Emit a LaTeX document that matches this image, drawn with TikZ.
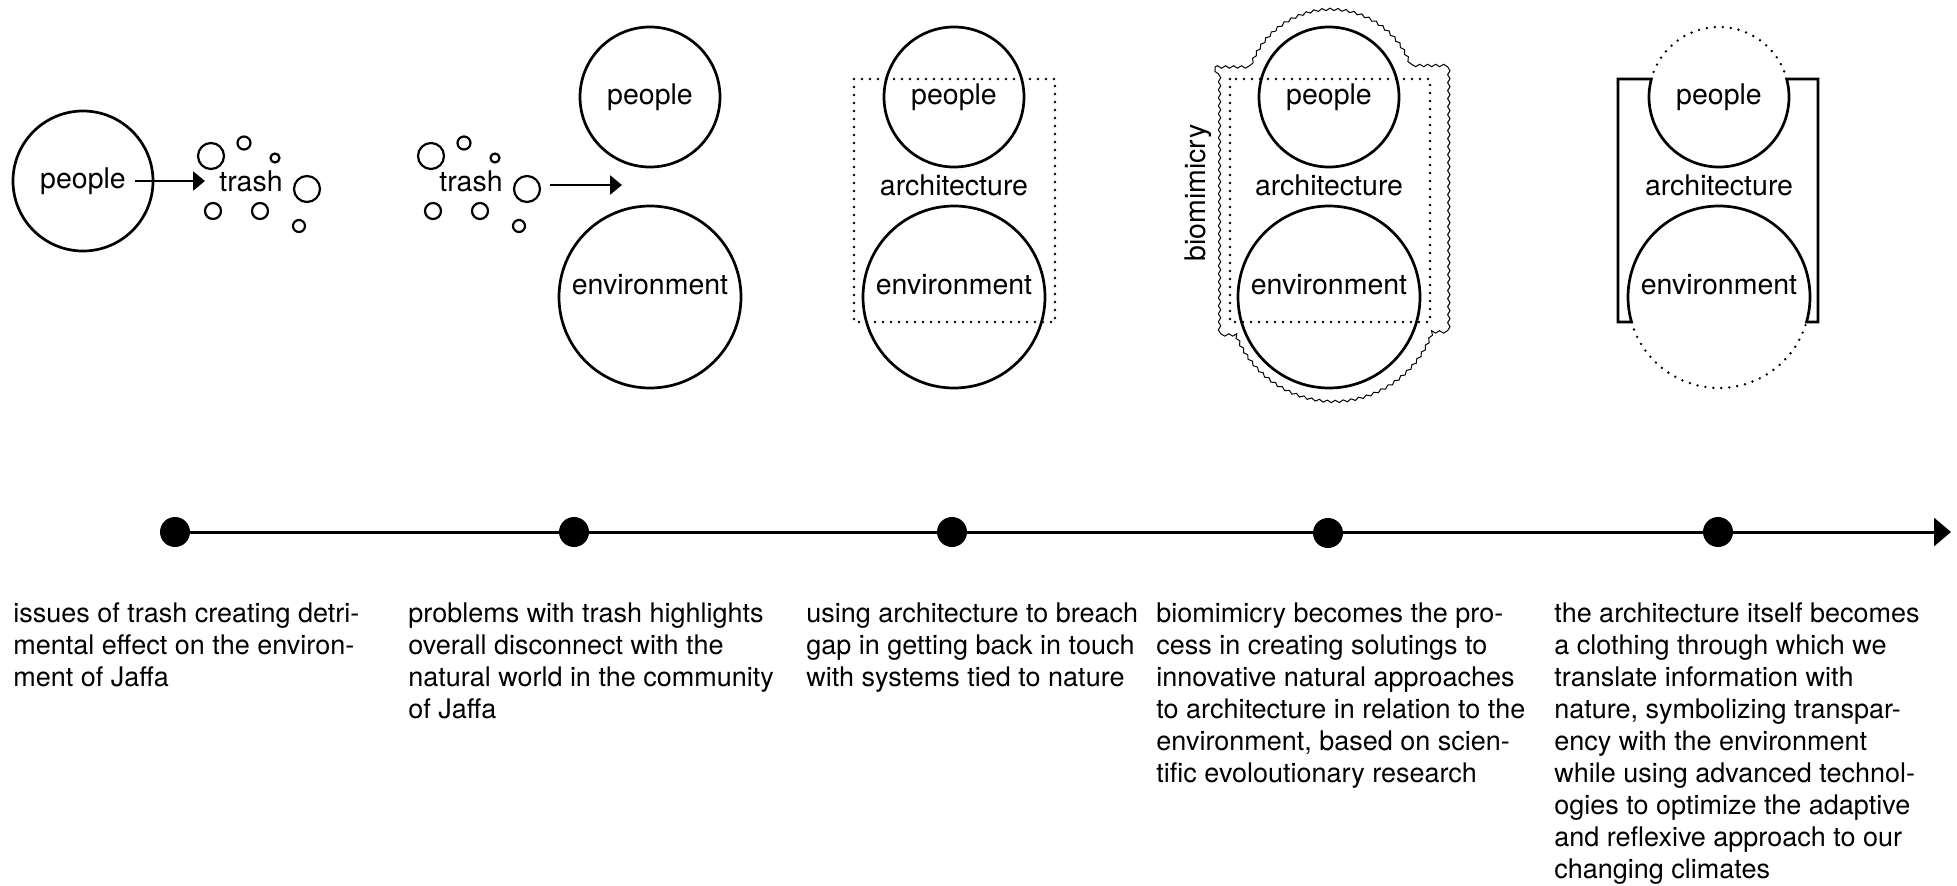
\documentclass[tikz,border=0pt]{standalone}
\usepackage{fontspec}
\setmainfont{TeX Gyre Heros}
\tikzstyle{every node}+=[inner sep=0pt,font=\fontsize{28.5}{34}\selectfont]
\tikzstyle{every path}+=[line width=2.7pt]
\usetikzlibrary{arrows.meta,calc,decorations.pathmorphing,positioning}
\tikzstyle{ring}=[circle,draw,line width=2.7pt]
\tikzstyle{trashbit}=[circle,draw,line width=2.2pt]
\tikzstyle{stopdot}=[circle,fill,minimum size=30pt]
\tikzstyle{blurb}=[anchor=north west,align=left,font=\fontsize{27}{32}\selectfont]
\tikzstyle{dotline}=[line width=2.7pt,line cap=round,dash pattern=on 0pt off 8pt]
\tikzstyle{wavy}=[line width=1pt,decorate,decoration={snake,amplitude=1.2pt,segment length=8pt}]
\tikzstyle{small arrow}=[-{Triangle[length=12pt,width=19pt]}]
\newcommand{\drawtrash}[2]{
	\foreach \dx/\dy/\r [count=\i] in {-40/25/13,-7/38/6.5,24/23/4.5,56/-8/13,-38/-30/8,9/-30/8,48/-45/6}{
		\node[trashbit,minimum size=2*\r] (#1b\i) at ($(#2)+(\dx,\dy)$) {};
	}
}

\begin{document}
\begin{tikzpicture}[x=1pt,y=1pt]
\useasboundingbox (0,0) rectangle (1957,-886);

% people make trash
\node[ring,minimum size=140pt] (people1) at (83,-181) {people};
\node (trash1) at (251,-181) {trash};
\drawtrash{t1}{trash1}
\coordinate (a1s) at (135,-181);
\coordinate (a1e) at (205,-181);
\draw[small arrow] (a1s) -- (a1e);

% trash splits people from environment
\node (trash2) at (471,-181) {trash};
\drawtrash{t2}{trash2}
\coordinate (a2s) at (550,-185);
\coordinate (a2e) at (622,-185);
\draw[small arrow] (a2s) -- (a2e);
\node[ring,minimum size=140pt] (people2) at (650,-97) {people};
\node[ring,minimum size=182pt] (env2) at (650,-297) {};
\node (env2l) at (650,-285) {environment};

% architecture
\node[ring,minimum size=140pt] (people3) at (954,-97) {people};
\node[ring,minimum size=182pt] (env3) at (954,-297) {};
\node (env3l) at (954,-285) {environment};
\node (arch3) at (954,-185) {architecture};
\draw[dotline] (854,-79) rectangle (1055,-322);

% biomimicry
\node[ring,minimum size=140pt] (people4) at (1329,-97) {people};
\node[ring,minimum size=182pt] (env4) at (1329,-297) {};
\node (env4l) at (1329,-285) {environment};
\node (arch4) at (1329,-185) {architecture};
\node[rotate=90] (bio4) at (1198,-193) {biomimicry};
\draw[dotline] (1230,-79) rectangle (1430,-322);
\draw[wavy] (1215,-67) -- ($(people4)+(159.3:85)$) arc[start angle=159.3,end angle=20.7,radius=85]
	-- (1444,-67) -- (1444,-333) -- ($(env4)+(-20.05:105)$) arc[start angle=-20.05,end angle=-159.95,radius=105]
	-- (1215,-333) -- cycle;

% clothing
\node[circle,minimum size=140pt] (people5) at (1719,-97) {people};
\node[circle,minimum size=182pt] (env5) at (1719,-297) {};
\node (env5l) at (1719,-285) {environment};
\node (arch5) at (1719,-185) {architecture};
\draw (1618,-79) -- ($(people5)+(165.1:70)$) arc[start angle=165.1,end angle=374.9,radius=70]
	-- (1818,-79) -- (1818,-322) -- ($(env5)+(-15.9:91)$) arc[start angle=-15.9,end angle=195.9,radius=91]
	-- (1618,-322) -- cycle;
\draw[dotline] ($(people5)+(14.9:70)$) arc[start angle=14.9,end angle=165.1,radius=70];
\draw[dotline] ($(env5)+(195.9:91)$) arc[start angle=195.9,end angle=344.1,radius=91];

% timeline
\coordinate (tlend) at (1951,-532);
\draw[line width=3pt,-{Triangle[length=17pt,width=28pt]}] (175,-532) -- (tlend);
\node[stopdot] (d1) at (175,-532) {};
\node[stopdot] (d2) at (574,-532) {};
\node[stopdot] (d3) at (952,-532) {};
\node[stopdot] (d4) at (1328,-533) {};
\node[stopdot] (d5) at (1718,-532) {};

\node[blurb] (txt1) at (12,-601) {issues of trash creating detri-\\mental effect on the environ-\\ment of Jaffa};
\node[blurb] (txt2) at (407,-601) {problems with trash highlights\\overall disconnect with the\\natural world in the community\\of Jaffa};
\node[blurb] (txt3) at (805,-601) {using architecture to breach\\gap in getting back in touch\\with systems tied to nature};
\node[blurb] (txt4) at (1155,-601) {biomimicry becomes the pro-\\cess in creating solutings to\\innovative natural approaches\\to architecture in relation to the\\environment, based on scien-\\tific evoloutionary research};
\node[blurb] (txt5) at (1553,-601) {the architecture itself becomes\\a clothing through which we\\translate information with\\nature, symbolizing transpar-\\ency with the environment\\while using advanced technol-\\ogies to optimize the adaptive\\and reflexive approach to our\\changing climates};

\end{tikzpicture}
\end{document}
